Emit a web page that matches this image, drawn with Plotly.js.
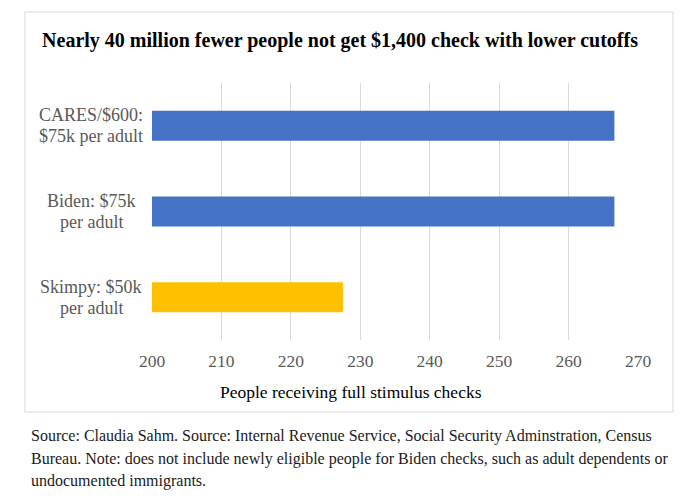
<!DOCTYPE html>
<html>
<head>
<meta charset="utf-8">
<script src="https://cdn.plot.ly/plotly-3.0.1.min.js"></script>
<style>html,body{margin:0;padding:0;background:#fff;}#chart{width:696px;height:496px;}</style>
</head>
<body>
<div id="chart"></div>
<script>
const categories = ["CARES/$600:<br>$75k per adult", "Biden: $75k<br>per adult", "Skimpy: $50k<br>per adult"];
const peopleMillions = [266.6, 266.6, 227.5];
const barColors = ["#4472C4", "#4472C4", "#FFC000"];
const xTickValues = [200, 210, 220, 230, 240, 250, 260, 270];
const titleText = "Nearly 40 million fewer people not get $1,400 check with lower cutoffs";
const xTitleText = "People receiving full stimulus checks";
const sourceLines = [
  "Source: Claudia Sahm. Source: Internal Revenue Service, Social Security Adminstration, Census",
  "Bureau. Note: does not include newly eligible people for Biden checks, such as adult dependents or",
  "undocumented immigrants."
];

const serif = "'Liberation Serif', 'Times New Roman', serif";
const L = 152, R = 58, T = 83, B = 156;
const W = 696 - L - R, H = 496 - T - B;
const px = x => (x - L) / W;
const py = y => (496 - B - y) / H;

const trace = {
  type: "bar",
  orientation: "h",
  x: peopleMillions,
  y: categories,
  marker: {color: barColors},
  width: 0.35,
  hoverinfo: "x"
};

const labelAnnotations = [];
categories.forEach(c => {
  const lines = c.split("<br>");
  lines.forEach((ln, i) => {
    labelAnnotations.push({
      xref: "paper", yref: "y", x: px(91), y: c,
      yshift: (i === 0 ? 10.5 : -10.5),
      text: ln, showarrow: false, xanchor: "center", yanchor: "middle", align: "center",
      font: {family: serif, size: 18, color: "#595959"}
    });
  });
});

const sourceAnnotations = sourceLines.map((s, i) => ({
  xref: "paper", yref: "paper", x: px(29), y: py(436 + i * 22.5),
  xanchor: "left", yanchor: "middle", align: "left",
  text: s, showarrow: false,
  font: {family: serif, size: 16, color: "#1a1a1a"}
}));

const layout = {
  width: 696, height: 496,
  margin: {l: L, r: R, t: T, b: B, pad: 0},
  paper_bgcolor: "#fff", plot_bgcolor: "#fff",
  font: {family: serif},
  showlegend: false,
  title: {text: "<b>" + titleText + "</b>", xref: "container", yref: "container",
          x: 340/696, xanchor: "center", y: 1 - 40/496, yanchor: "middle",
          font: {family: serif, size: 20, color: "#000"}},
  xaxis: {
    range: [200, 270], tickvals: xTickValues, ticktext: xTickValues.map(String),
    showgrid: true, gridcolor: "#d9d9d9", gridwidth: 1, zeroline: false, showline: false,
    ticks: "outside", ticklen: 5, tickcolor: "rgba(0,0,0,0)",
    tickfont: {family: serif, size: 17.5, color: "#595959"},
    fixedrange: true
  },
  yaxis: {
    autorange: "reversed", showticklabels: false, showgrid: false, zeroline: false, showline: false,
    ticks: "", fixedrange: true
  },
  shapes: [{
    type: "rect", xref: "paper", yref: "paper",
    x0: px(25), x1: px(673), y0: py(412), y1: py(12),
    line: {color: "#d9d9d9", width: 1}, fillcolor: "rgba(0,0,0,0)", layer: "below"
  }],
  annotations: labelAnnotations.concat(sourceAnnotations, [{
    xref: "paper", yref: "paper", x: px(351), y: py(392), xanchor: "center", yanchor: "middle",
    text: xTitleText, showarrow: false,
    font: {family: serif, size: 17.5, color: "#000"}
  }])
};

Plotly.newPlot("chart", [trace], layout, {displayModeBar: false, staticPlot: true});
</script>
</body>
</html>
